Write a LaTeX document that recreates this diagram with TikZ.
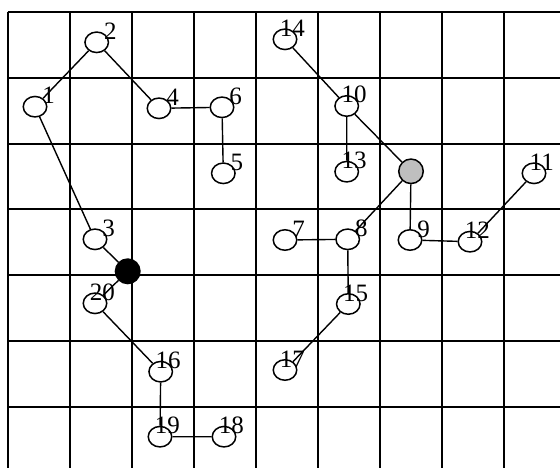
\documentclass[tikz,border=0pt]{standalone}
\usepackage{fontspec}
\setmainfont{Liberation Serif}
\usetikzlibrary{shapes.geometric}

\tikzset{
    vtx/.style={draw, ellipse, line width=1.5pt, minimum width=23.5pt, minimum height=20.5pt, inner sep=0pt},
    hub/.style={draw, circle, line width=1.5pt, minimum size=24.5pt, inner sep=0pt},
    num/.style={anchor=base east, inner sep=0pt, font=\fontsize{25}{25}\selectfont},
    link/.style={line width=1.4pt}
}

\begin{document}
\begin{tikzpicture}[x=1pt, y=-1pt]
    \useasboundingbox (0,0) rectangle (560,468);
    % grid
    \foreach \c in {0,...,8}
        \draw[line width=2pt] ({7.5+62.06*\c},12) -- ({7.5+62.06*\c},468);
    \foreach \r in {0,...,6}
        \draw[line width=2pt] (7.5,{12+65.8*\r}) -- (560,{12+65.8*\r});
    % vertices
    \foreach \n/\x/\y in {1/35/106.7, 2/96.7/42.3, 3/95/239.3, 4/159/108.3, 5/223.3/173.3,
        6/222/107.3, 7/285/240, 8/347.7/239.3, 9/410/240, 10/346.7/106,
        11/534/173.3, 12/470/241.7, 13/346.7/171.7, 14/285/39.3, 15/348.3/304,
        16/160.7/371.7, 17/285/370, 18/224/436.7, 19/160/436.7, 20/95/303.3}
        \node[vtx] (v\n) at (\x,\y) {};
    \node[hub, fill=black] (dark) at (127.7,271.3) {};
    \node[hub, fill=black!25] (grey) at (411,171.3) {};
    % edges
    \draw[link] (v3) -- (v1) -- (v2) -- (v4) -- (v6) -- (v5);
    \draw[link] (v3) -- (dark) -- (v20) -- (v16) -- (v19) -- (v18);
    \draw[link] (v14) -- (v10) -- (v13);
    \draw[link] (v10) -- (grey) -- (v8);
    \draw[link] (grey) -- (v9) -- (v12) -- (v11);
    \draw[link] (v7) -- (v8) -- (v15) -- (v17);
    % numbers
    \foreach \n in {1,...,20}
        \node[num] (l\n) at ([shift={(20,-3)}]v\n.center) {\n};
\end{tikzpicture}
\end{document}
